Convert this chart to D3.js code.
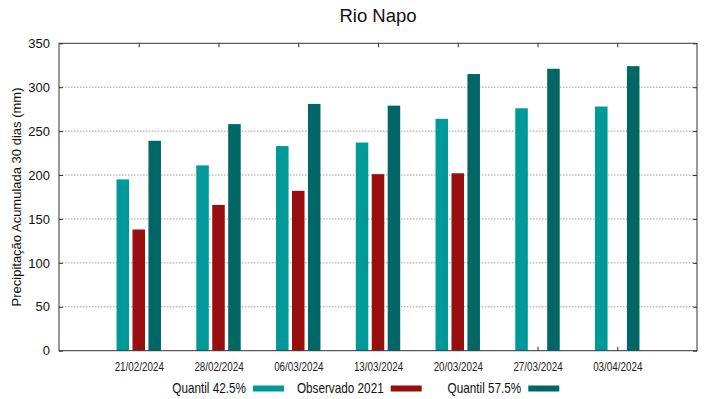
<!DOCTYPE html>
<html><head><meta charset="utf-8">
<script src="https://cdn.jsdelivr.net/npm/d3@7"></script>
<style>body{margin:0;background:#fff}svg{display:block;font-family:"Liberation Sans",Arial,sans-serif}</style>
</head><body><svg id="c" width="719" height="399"></svg>
<script>
const categories = ["21/02/2024","28/02/2024","06/03/2024","13/03/2024","20/03/2024","27/03/2024","03/04/2024"];
const q425 = [195, 211, 233, 237, 264, 276, 278];
const obs2021 = [138, 166, 182, 201, 202, null, null];
const q575 = [239, 258, 281, 279, 315, 321, 324];
const yTicks = [0,50,100,150,200,250,300,350];
const seriesNames = ["Quantil 42.5%","Observado 2021","Quantil 57.5%"];
const seriesColors = ["#009999","#990f0f","#006666"];

const svg = d3.select("#c");
const m = {l:59, r:697, t:43.3, b:350.7};
const x = d3.scaleLinear().domain([-1, categories.length]).range([m.l, m.r]);
const y = d3.scaleLinear().domain([0,350]).range([m.b, m.t]);

// grid
svg.append("g").selectAll("line").data(yTicks.filter(d=>d>0&&d<350)).join("line")
  .attr("x1",m.l).attr("x2",m.r).attr("y1",d=>y(d)).attr("y2",d=>y(d))
  .attr("stroke","#a0a0a0").attr("stroke-width",1).attr("stroke-dasharray","1.5,1.5");

// bars
const series = [q425, obs2021, q575];
const offs = [-0.2, 0, 0.2];
const bw = 0.157;
series.forEach((s,si)=>{
  svg.append("g").selectAll("rect").data(s.map((v,i)=>({v,i})).filter(d=>d.v!=null)).join("rect")
    .attr("x",d=>x(d.i+offs[si]-bw/2)).attr("width",x(bw)-x(0))
    .attr("y",d=>y(d.v)).attr("height",d=>y(0)-y(d.v))
    .attr("fill",seriesColors[si]);
});

// axes
const idx = categories.map((c,i)=>i);
const fmt = i=>categories[i];
svg.append("g").attr("transform",`translate(0,${m.b})`)
  .call(d3.axisBottom(x).tickValues(idx).tickFormat(fmt).tickSizeInner(-4).tickSizeOuter(0).tickPadding(12))
  .call(g=>{g.select(".domain").remove();g.selectAll("line").attr("stroke","#333");
    g.selectAll("text").attr("font-size","12px").attr("fill","#222").attr("font-family",null).attr("transform","scale(0.82,1)");});
svg.append("g").attr("transform",`translate(0,${m.t})`)
  .call(d3.axisTop(x).tickValues(idx).tickFormat("").tickSizeInner(-4).tickSizeOuter(0))
  .call(g=>{g.select(".domain").remove();g.selectAll("line").attr("stroke","#333");});
svg.append("g").attr("transform",`translate(${m.l},0)`)
  .call(d3.axisLeft(y).tickValues(yTicks).tickSizeInner(-4).tickSizeOuter(0).tickPadding(9))
  .call(g=>{g.select(".domain").remove();g.selectAll("line").attr("stroke","#333");g.selectAll("text").attr("font-size","13px").attr("fill","#111").attr("font-family",null);});
svg.append("g").attr("transform",`translate(${m.r},0)`)
  .call(d3.axisRight(y).tickValues(yTicks).tickFormat("").tickSizeInner(-4).tickSizeOuter(0))
  .call(g=>{g.select(".domain").remove();g.selectAll("line").attr("stroke","#333");});
svg.append("rect").attr("x",m.l).attr("y",m.t).attr("width",m.r-m.l).attr("height",m.b-m.t)
  .attr("fill","none").attr("stroke","#333").attr("stroke-width",1);

// title
svg.append("text").attr("x",(m.l+m.r)/2).attr("y",22).attr("text-anchor","middle")
  .attr("font-size","18.5px").attr("fill","#111").text("Rio Napo");
// y label
svg.append("text").attr("transform",`translate(21,${(m.t+m.b)/2}) rotate(-90)`).attr("text-anchor","middle")
  .attr("font-size","13px").attr("fill","#111").text("Precipitação Acumulada 30 dias (mm)");

// legend
const legEnds = [253, 390.7, 528.3];
seriesNames.forEach((n,i)=>{
  svg.append("g").attr("transform",`translate(${legEnds[i]-7},392.5) scale(0.84,1)`)
    .append("text").attr("text-anchor","end").attr("font-size","14px").attr("fill","#111").text(n);
  svg.append("rect").attr("x",legEnds[i]).attr("y",385.5).attr("width",31).attr("height",6).attr("fill",seriesColors[i]);
});
</script></body></html>
